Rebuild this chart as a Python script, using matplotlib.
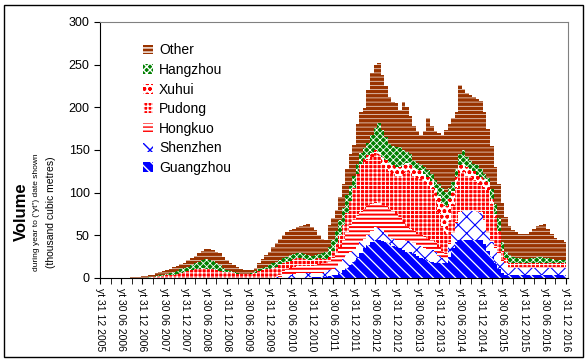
import numpy as np
import matplotlib
matplotlib.use('Agg')
import matplotlib.pyplot as plt
from matplotlib.patches import Patch, Rectangle

plt.rcParams['font.family'] = ['Liberation Sans', 'DejaVu Sans']

# monthly, Dec 2005 .. Dec 2016 (133 months), thousand m3
guangzhou = [0] * 58 + [
    0.5, 0.5, 1, 1, 1, 1, 1, 2, 3, 4, 6, 9,                  # 58-69
    12, 15, 19, 24, 29, 35, 39, 42, 44, 44, 43, 42,          # 70-81
    40, 38, 36, 35, 33, 31, 30, 28, 26, 24, 22, 20,          # 82-93
    19, 18, 18, 17, 18, 25, 35, 42, 44, 45, 45, 45,          # 94-105
    45, 44, 44, 40, 32, 25, 18, 10, 6] + [4] * 18            # 106-132
shenzhen = [0] * 24 + [0.5] * 26 + [
    0.7, 1, 2, 3, 4, 5, 5.5, 6, 5.5, 5.5,                    # 50-59
    5, 5, 5, 5, 6, 7, 8, 10, 11, 13,                          # 60-69
    15, 15, 14, 14, 13, 11, 11, 13, 16, 15,                   # 70-79
    14, 10, 8, 8, 9, 9, 11, 12, 13, 13,                       # 80-89
    12, 13, 13, 14, 14, 12, 8, 6, 6, 15,                      # 90-99
    17, 23, 32, 33, 33, 33, 33, 33, 32, 26,                   # 100-109
    20, 17, 17, 17, 14, 13] + [8] * 17                        # 110-132
hongkuo = [0] * 51 + [
    2, 6, 7, 8, 8, 8.5, 8, 8, 8,                              # 51-59
    8, 9, 10, 11, 11, 11, 13, 15, 19, 22,                     # 60-69
    27, 32, 35, 35, 35, 35, 35, 32, 29, 29,                   # 70-79
    29, 32, 33, 32, 30, 27, 22, 18, 14, 14,                   # 80-89
    14, 13, 13, 12, 11, 12, 10, 7, 4, 2,                      # 90-99
    2, 2, 1, 1, 1, 1, 1, 1, 1, 2,                             # 100-109
    2, 2, 2, 3, 2] + [1] * 18                                 # 110-132
pudong = [0] * 13 + [
    0.3, 0.5, 1, 1.5, 2, 2.5, 3,                              # 13-19
    3.5, 4, 5, 6, 6.5, 7.5, 8.5, 9.5, 10.5, 11,               # 20-29
    10.5, 9.5, 9.5, 8.5, 7.5, 7, 6.5, 6, 5.5, 4.5,            # 30-39
    4.2, 4, 4, 4.5, 5.5, 7.5, 8.5, 9.5, 10.5, 11.5,           # 40-49
    12, 13, 9, 9, 8, 9, 9, 9, 8, 7,                           # 50-59
    7, 7, 7, 5, 4, 5, 8, 11, 14, 18,                          # 60-69
    22, 28, 37, 49, 55, 55, 55, 55, 57, 56,                   # 70-79
    48, 44, 44, 44, 45, 49, 56, 64, 66, 64,                   # 80-89
    65, 66, 64, 62, 60, 49, 40, 30, 24, 25,                   # 90-99
    30, 39, 46, 45, 41, 39, 36, 33, 31, 38,                   # 100-109
    49, 42, 34, 23, 8, 5] + [4] * 17                          # 110-132
xuhui = [0] * 74 + [
    2, 4, 4, 4, 4, 4,                                         # 74-79
    8] + [10] * 14 + [                                        # 80-94
    14, 20, 28, 32, 25, 18, 12] + [10] * 9 + [                # 95-110
    6, 4, 2, 2] + [1] * 18                                    # 111-132
hangzhou = [0] * 13 + [
    0.2, 0.5, 0.5, 0.5, 1, 1.5, 2,                            # 13-19
    2.5, 3, 3, 4, 5, 5, 6, 7, 8, 9.5,                         # 20-29
    11, 11, 10, 9, 7, 4.5, 2.5, 1.5, 0.5, 0.5,                # 30-39
    0.3, 0.2, 0.5, 1, 2, 2, 3, 3, 4, 5,                       # 40-49
    6.3, 5, 6, 6, 7, 6, 6, 6, 6, 6,                           # 50-59
    5, 5, 5, 7, 8, 11, 13, 15, 18, 20,                        # 60-69
    21, 18, 15, 12, 12, 12, 14, 22, 26, 34,                   # 70-79
    31, 27, 22, 23, 24, 23, 18, 13, 12, 8,                    # 80-89
    8, 7, 8, 8, 8, 10, 14, 17, 17, 13,                        # 90-99
    10, 10, 12, 16, 12, 9, 9, 11, 10, 6,                      # 100-109
    4, 12, 12, 15, 10, 7, 9, 7, 6, 5,                         # 110-119
    4, 4, 5, 6, 7, 7, 6, 5, 4, 3, 3, 3, 3]                    # 120-132
other = [0] * 9 + [
    1, 1, 1.5, 2, 1.8, 2, 2.5, 3.5, 4, 4.5, 4.5,              # 9-19
    5, 5.5, 6, 6, 6, 8, 8, 9, 10, 11,                         # 20-29
    11.5, 12.5, 12.5, 13, 14, 13, 11.5, 10, 8.5, 7.5,         # 30-39
    6, 4.8, 4, 3, 4, 7, 10, 14, 16, 19,                       # 40-49
    22, 25, 27, 29, 29, 30, 31, 32, 34, 36,                   # 50-59
    34, 29, 22, 17, 14, 26, 25, 25, 27, 28,                   # 60-69
    31, 37, 36, 46, 49, 47, 62, 72, 74, 70,                   # 70-79
    65, 60, 55, 51, 51, 44, 56, 52, 45, 41,                   # 80-89
    37, 35, 42, 61, 56, 57, 60, 63, 72, 75,                   # 90-99
    76, 67, 81, 72, 75, 77, 78, 78, 80, 73,                   # 100-109
    58, 51, 43, 40, 46, 41, 34, 31, 30, 29,                   # 110-119
    29, 30, 31, 33, 36, 37, 39, 35, 30, 26, 24, 24, 21]       # 120-132

series_names = ['Guangzhou', 'Shenzhen', 'Hongkuo', 'Pudong', 'Xuhui', 'Hangzhou', 'Other']
series_values = [guangzhou, shenzhen, hongkuo, pudong, xuhui, hangzhou, other]

tick_labels = []
for year in range(2005, 2017):
    if year > 2005:
        tick_labels.append('yt 30 06 %d' % year)
    tick_labels.append('yt 31 12 %d' % year)

# face colour, hatch colour, hatch, hatch linewidth
styles = {
    'Guangzhou': ('#0000FF', 'white', '\\\\\\', 0.9),
    'Shenzhen': ('white', '#0000FF', 'xx', 0.8),
    'Hongkuo': ('white', '#FF0000', '----', 1.4),
    'Pudong': ('#FF0000', 'white', '++++', 0.7),
    'Xuhui': ('white', '#FF0000', 'ooo', 1.0),
    'Hangzhou': ('#008000', 'white', 'xxxxx', 0.6),
    'Other': ('#993300', 'white', '----', 0.45),
}

months = np.arange(len(guangzhou))
fig = plt.figure(figsize=(5.88, 3.62), dpi=100)
ax = fig.add_axes([100 / 588, 1 - 278 / 362, 468 / 588, 256 / 362])

base = np.zeros(len(months))
for name, vals in zip(series_names, series_values):
    vals = np.array(vals, dtype=float)
    face, hcol, hatch, hlw = styles[name]
    coll = ax.fill_between(months, base, base + vals, step='mid', facecolor=face,
                           edgecolor=hcol, hatch=hatch, linewidth=0)
    if hasattr(coll, 'set_hatch_linewidth'):
        coll.set_hatch_linewidth(hlw)
    base = base + vals

ax.set_xlim(0, 132.6)
ax.set_ylim(0, 300)
ax.set_yticks(range(0, 301, 50))
ax.set_xticks(np.arange(0, 133, 6))
ax.set_xticks(np.arange(0, 133, 3), minor=True)
ax.set_xticklabels(tick_labels, rotation=-90, fontsize=7.5)
ax.tick_params(axis='y', labelsize=9, length=4, direction='out')
ax.tick_params(axis='x', which='both', length=4, direction='out', pad=3)
for side in ['top', 'right']:
    ax.spines[side].set_color('#808080')

handles = []
for name in series_names[::-1]:
    face, hcol, hatch, hlw = styles[name]
    handles.append(Patch(facecolor=face, edgecolor=hcol, hatch=hatch, linewidth=0, label=name))
ax.legend(handles=handles, loc='upper left', bbox_to_anchor=(0.065, 0.965), frameon=False,
          fontsize=10, handlelength=0.7, handleheight=0.7, handletextpad=0.45, labelspacing=0.4)

fig.text(21 / 588, 150 / 362, 'Volume', rotation=90, fontsize=12, fontweight='bold',
         ha='center', va='center')
fig.text(37 / 588, 150 / 362, 'during year to ("yt") date shown', rotation=90, fontsize=6,
         ha='center', va='center')
fig.text(51 / 588, 150 / 362, '(thousand cubic metres)', rotation=90, fontsize=7.5,
         ha='center', va='center')

fig.patches.append(Rectangle((4 / 588, 5 / 362), 579 / 588, 352 / 362, transform=fig.transFigure,
                             fill=False, edgecolor='black', linewidth=1))

fig.savefig('out.png', dpi=100)
